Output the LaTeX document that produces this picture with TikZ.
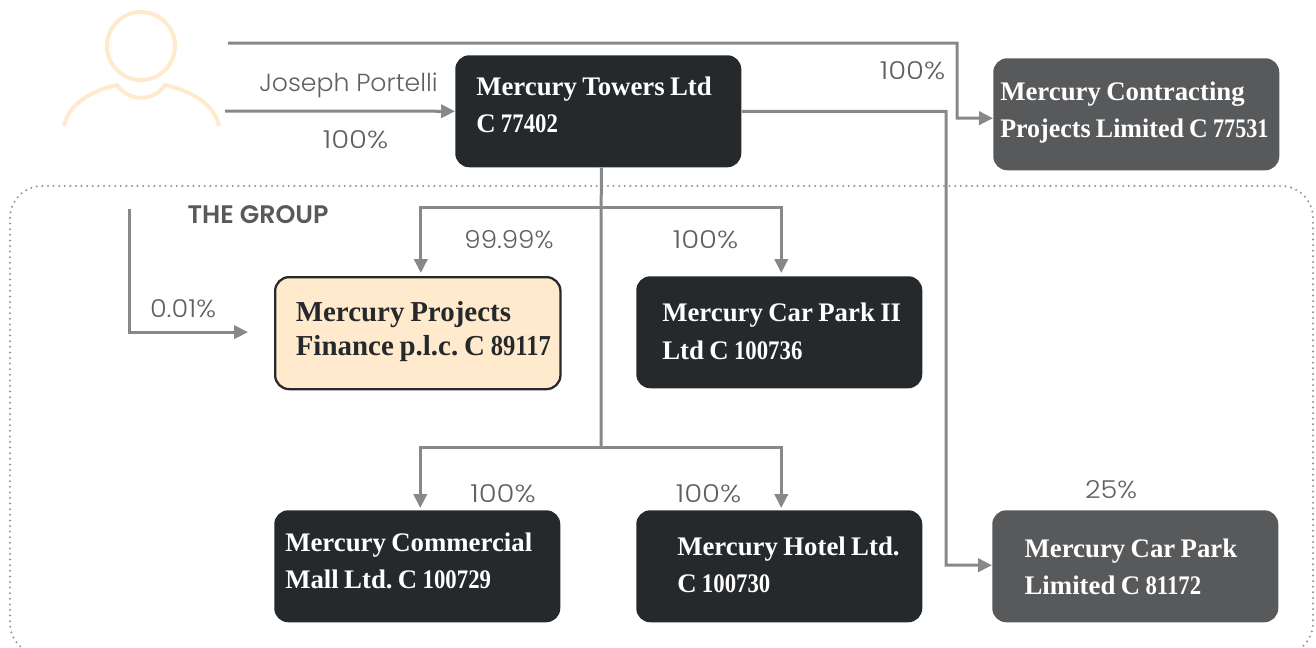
\documentclass[tikz,border=0pt]{standalone}
\usepackage{fontspec}
\setmainfont{Liberation Serif}
\newfontfamily\lblfont{Poppins Light}[FakeStretch=1.02]
\newfontfamily\pctfont{Poppins Light}[FakeStretch=1.18]
\newfontfamily\pctmid{Poppins Light}[FakeStretch=1.10]
\newfontfamily\pctnar{Poppins Light}[FakeStretch=1.06]
\newfontfamily\grpfont{Poppins SemiBold}
\usetikzlibrary{arrows.meta,calc}
\definecolor{darkbox}{HTML}{26292B}
\definecolor{greybox}{HTML}{58595B}
\definecolor{cream}{HTML}{FFEACD}
\definecolor{linegrey}{HTML}{87888A}
\definecolor{lbl}{HTML}{5F6062}
% narrower figures, as in the reference's serif
\newcommand{\dg}[1]{\scalebox{.85}[1]{#1}}
% #1 lift above centre, #2 left indent, #3 first line, #4 second line
\newcommand{\boxlines}[4]{\raisebox{\dimexpr#1-5.5pt\relax}[0pt][0pt]{\begin{minipage}[c]{212pt}\raggedright\spaceskip=.2em\relax\xspaceskip=.2em\relax
 \hspace*{#2}#3\\\hspace*{#2}#4\end{minipage}}}
\tikzset{
 x=0.75pt,y=-0.75pt,
 boxbase/.style={anchor=north west,rounded corners=10.5pt,minimum width=214.5pt,minimum height=84pt,inner xsep=0pt,inner ysep=0pt,font=\fontsize{20.1}{28}\selectfont\bfseries},
 darkb/.style={boxbase,fill=darkbox,text=white},
 greyb/.style={boxbase,fill=greybox,text=white},
 creamb/.style={boxbase,fill=cream,draw=darkbox,line width=1.7pt,text=darkbox,font=\fontsize{21.7}{25.5}\selectfont\bfseries},
 conn/.style={draw=linegrey,line width=2.25pt},
 arr/.style={conn,-{Triangle[length=10.5pt,width=10pt]}},
 pct/.style={font=\pctfont\fontsize{18.5}{22}\selectfont,text=lbl,inner sep=0pt},
 icon/.style={draw=cream,line width=3pt},
}
\begin{document}
\begin{tikzpicture}
\useasboundingbox (0,0) rectangle (1316,647);
\clip (0,0) rectangle (1316,647);
% group frame
\draw[linegrey!90,line width=1.7pt,line cap=round,dash pattern=on 0pt off 4.2pt,rounded corners=24pt] (10,186) rectangle (1313,655);
% person
\draw[icon] (141,46) circle (34);
\draw[icon] (64,126) .. controls (68,105) and (90,91) .. (117,85) .. controls (128,102) and (154,102) .. (165,85) .. controls (192,91) and (215,105) .. (219,126);
% boxes
\node[darkb] (towers) at (455,55) {\boxlines{4.9pt}{14.5pt}{Mercury Towers Ltd}{C \dg{77402}}};
\node[greyb] (contract) at (993,58) {\boxlines{1.85pt}{4pt}{Mercury Contracting}{\scalebox{.97}[1]{Projects Limited C \dg{77531}}}};
\node[creamb,minimum width=214pt] (finance) at (274,276) {\boxlines{1.5pt}{14.5pt}{Mercury Projects}{Finance p.l.c. C \dg{89117}}};
\node[darkb] (parktwo) at (636,276) {\boxlines{1.1pt}{18.25pt}{Mercury Car Park II}{Ltd C \dg{100736}}};
\node[darkb] (mall) at (274,510) {\boxlines{4.5pt}{7pt}{Mercury Commercial}{Mall Ltd. C \dg{100729}}};
\node[darkb] (hotel) at (636,510) {\boxlines{1.5pt}{29.5pt}{Mercury Hotel Ltd.}{C \dg{100730}}};
\node[greyb] (park) at (992,510) {\boxlines{0pt}{23pt}{Mercury Car Park}{Limited C \dg{81172}}};
% free ends
\coordinate (topstart) at (228,43);
\coordinate (josephstart) at (225,111);
\coordinate (leftstart) at (129,209);
\coordinate (trunkjoin) at (601,447);
\coordinate (trunktop) at (601,207);
% connectors
\draw[arr] (topstart) -| (957,118) -- ($(contract.west)+(0,4)$);
\draw[arr] (josephstart) -- (towers.west);
\draw[arr] (towers.east) -| (946,565) -- ($(park.west)+(0,-1)$);
\draw[conn] ($(towers.south)+(3,0)$) -- (trunkjoin);
\draw[arr] (trunktop) -| ($(finance.north)+(3,-3)$);
\draw[arr] (trunktop) -| ($(parktwo.north)+(2,-3)$);
\draw[arr] (trunkjoin) -| ($(mall.north)+(3,-2)$);
\draw[arr] (trunkjoin) -| ($(hotel.north)+(2,-2)$);
\draw[arr] (leftstart) |- ($(finance.west)+(-26,-1)$);
% labels
\node[pct,font=\lblfont\fontsize{18.5}{22}\selectfont] (lj) at (348.5,85) {Joseph Portelli};
\node[pct] (l1) at (355.5,140) {100\%};
\node[pct] (l2) at (912.5,71) {100\%};
\node[pct,font=\grpfont\fontsize{19}{22}\selectfont,text=greybox] (lg) at (258,215) {THE GROUP};
\node[pct,font=\pctnar\fontsize{18.5}{22}\selectfont] (l3) at (509,240) {99.99\%};
\node[pct] (l4) at (705.5,240) {100\%};
\node[pct,font=\pctmid\fontsize{18.5}{22}\selectfont] (l5) at (183,309) {0.01\%};
\node[pct] (l6) at (503,494) {100\%};
\node[pct] (l7) at (708.5,494) {100\%};
\node[pct,font=\pctmid\fontsize{18.5}{22}\selectfont] (l8) at (1111,490) {25\%};
\end{tikzpicture}
\end{document}
